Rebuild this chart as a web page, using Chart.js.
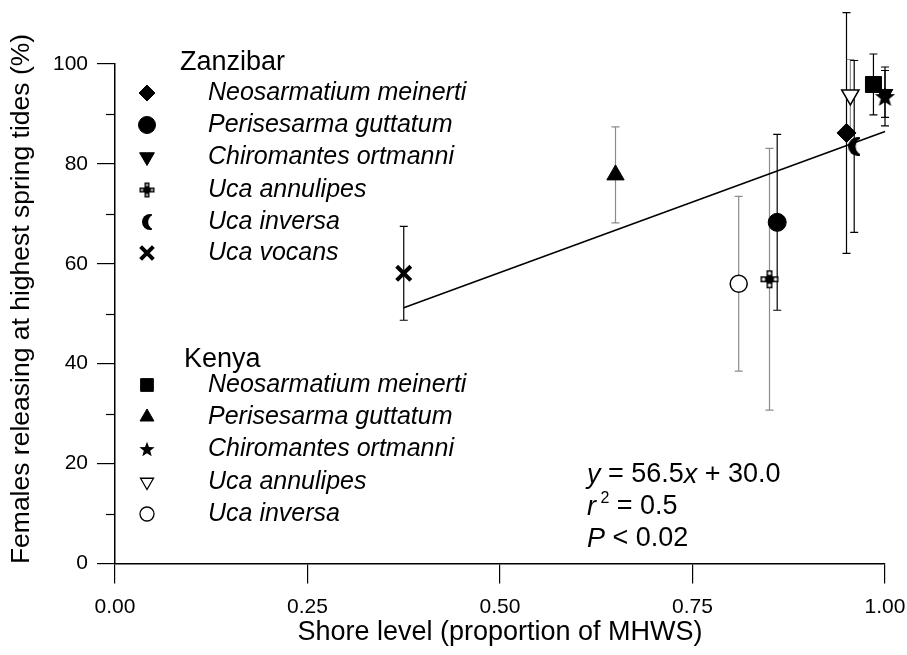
<!DOCTYPE html>
<html>
<head>
<meta charset="utf-8">
<script src="https://cdn.jsdelivr.net/npm/chart.js@4.4.1/dist/chart.umd.min.js"></script>
<style>
  body { margin: 0; background: #fff; }
  #wrap { width: 907px; height: 655px; }
</style>
</head>
<body>
<div id="wrap"><canvas id="chart" width="907" height="655"></canvas></div>
<script>
'use strict';

// values
const zanzibarSpecies = ['Neosarmatium meinerti', 'Perisesarma guttatum', 'Chiromantes ortmanni', 'Uca annulipes', 'Uca inversa', 'Uca vocans'];
const zanzibarShore = [0.95, 0.86, 1.00, 0.85, 0.96, 0.375];
const zanzibarRelease = [86.2, 68.3, 94.0, 56.9, 83.5, 58.1];
const zanzibarError = [24.1, 17.6, 4.7, 26.2, 17.2, 9.4];

const kenyaSpecies = ['Neosarmatium meinerti', 'Perisesarma guttatum', 'Chiromantes ortmanni', 'Uca annulipes', 'Uca inversa'];
const kenyaShore = [0.985, 0.65, 1.00, 0.955, 0.81];
const kenyaRelease = [95.9, 77.8, 93.5, 93.8, 56.0];
const kenyaError = [6.1, 9.6, 5.9, 7.1, 17.5];

const fitShore = [0.375, 1.00];
const fitRelease = [51.2, 86.5];

const yMinorTicks = [10, 30, 50, 70, 90];
const yTitle = 'Females releasing at highest spring tides (%)';
const xTitle = 'Shore level (proportion of MHWS)';

const FONT = "'Liberation Sans', Arial, Helvetica, sans-serif";
const BLACK = '#000';
const GREY = '#8c8c8c';

// --- custom marker images ---
function markerCanvas(w, h, draw) {
  const c = document.createElement('canvas');
  c.width = w;
  c.height = h;
  draw(c.getContext('2d'), w, h);
  return c;
}

function plusSquare(u) {
  return markerCanvas(u * 3 + 2, u * 3 + 2, (g) => {
    g.translate(1, 1);
    g.lineWidth = 1.5;
    g.strokeStyle = BLACK;
    [[1, 0], [0, 1], [2, 1], [1, 2]].forEach(([i, j]) => {
      g.fillStyle = '#fff';
      g.fillRect(i * u, j * u, u, u);
      g.strokeRect(i * u + 0.75, j * u + 0.75, u - 1.5, u - 1.5);
    });
    g.fillStyle = BLACK;
    g.fillRect(u, u, u, u);
  });
}

function crescent(w, h) {
  return markerCanvas(w, h, (g) => {
    const r = h / 2;
    g.fillStyle = BLACK;
    g.beginPath();
    g.arc(r, r, r, 0, Math.PI * 2);
    g.fill();
    g.globalCompositeOperation = 'destination-out';
    g.beginPath();
    g.arc(r + w * 0.55, r, r * 0.92, 0, Math.PI * 2);
    g.fill();
  });
}

function star(r) {
  const s = Math.ceil(r * 2) + 2;
  return markerCanvas(s, s, (g) => {
    g.translate(s / 2, s / 2 + r * 0.1);
    g.beginPath();
    for (let i = 0; i < 10; i++) {
      const rr = i % 2 ? r * 0.42 : r;
      const a = -Math.PI / 2 + i * Math.PI / 5;
      g.lineTo(rr * Math.cos(a), rr * Math.sin(a));
    }
    g.closePath();
    g.fillStyle = BLACK;
    g.fill();
  });
}

const zanzibarStyle = {
  pointStyle: ['rectRot', 'circle', 'triangle', plusSquare(6), crescent(12, 19), 'crossRot'],
  radius: [9.5, 9, 9, 9, 9, 10],
  rotation: [0, 0, 180, 0, 0, 0],
  backgroundColor: [BLACK, BLACK, BLACK, BLACK, BLACK, BLACK],
  borderWidth: [1, 1, 1, 1, 1, 4],
  errorColor: [BLACK, BLACK, BLACK, GREY, BLACK, BLACK]
};
const zanzibarLegend = {
  pointStyle: ['rectRot', 'circle', 'triangle', plusSquare(5), crescent(10, 16), 'crossRot'],
  radius: [8, 8.5, 8.5, 8, 8, 9],
  rotation: [0, 0, 180, 0, 0, 0],
  backgroundColor: [BLACK, BLACK, BLACK, BLACK, BLACK, BLACK],
  borderWidth: [1, 1, 1, 1, 1, 4]
};
const kenyaStyle = {
  pointStyle: ['rect', 'triangle', star(10.5), 'triangle', 'circle'],
  radius: [11.3, 10, 10, 10, 8.5],
  rotation: [0, 0, 0, 180, 0],
  backgroundColor: [BLACK, BLACK, BLACK, '#fff', '#fff'],
  borderWidth: [1, 1, 1, 1.5, 1.5],
  errorColor: [BLACK, GREY, BLACK, GREY, GREY]
};
const kenyaLegend = {
  pointStyle: ['rect', 'triangle', star(8), 'triangle', 'circle'],
  radius: [9, 8, 7, 7.5, 7],
  rotation: [0, 0, 0, 180, 0],
  backgroundColor: [BLACK, BLACK, BLACK, '#fff', '#fff'],
  borderWidth: [1, 1, 1, 1.3, 1.3]
};

function points(xs, ys) {
  return xs.map((x, i) => ({ x: x, y: ys[i] }));
}

// error bars drawn under the markers
const errorBars = {
  id: 'errorBars',
  beforeDatasetsDraw(chart) {
    const { ctx, scales: { x, y } } = chart;
    chart.data.datasets.forEach((ds) => {
      if (!ds.errors) return;
      ds.data.forEach((p, i) => {
        const px = x.getPixelForValue(p.x);
        const top = y.getPixelForValue(p.y + ds.errors[i]);
        const bot = y.getPixelForValue(p.y - ds.errors[i]);
        ctx.save();
        ctx.strokeStyle = ds.errorColor[i];
        ctx.lineWidth = 1.2;
        ctx.beginPath();
        ctx.moveTo(px, top); ctx.lineTo(px, bot);
        ctx.moveTo(px - 4, top); ctx.lineTo(px + 4, top);
        ctx.moveTo(px - 4, bot); ctx.lineTo(px + 4, bot);
        ctx.stroke();
        ctx.restore();
      });
    });
  }
};

// short minor ticks on the y axis, plus the y title
const axisExtras = {
  id: 'axisExtras',
  afterDraw(chart) {
    const { ctx, scales: { y } } = chart;
    ctx.save();
    ctx.strokeStyle = BLACK;
    ctx.lineWidth = 1.2;
    yMinorTicks.forEach((v) => {
      const py = Math.round(y.getPixelForValue(v)) + 0.5;
      ctx.beginPath();
      ctx.moveTo(y.right - 9, py);
      ctx.lineTo(y.right, py);
      ctx.stroke();
    });
    ctx.translate(22, 299);
    ctx.rotate(-Math.PI / 2);
    ctx.fillStyle = BLACK;
    ctx.font = '26.5px ' + FONT;
    ctx.textAlign = 'center';
    ctx.textBaseline = 'middle';
    ctx.fillText(yTitle, 0, 0);
    ctx.restore();
  }
};

function drawRuns(ctx, x, y, runs) {
  runs.forEach((r) => {
    ctx.font = (r.italic ? 'italic ' : '') + (r.size || 27) + 'px ' + FONT;
    ctx.fillText(r.t, x, y + (r.dy || 0));
    x += ctx.measureText(r.t).width;
  });
}

// grouped legend and regression statistics
const groupLegend = {
  id: 'groupLegend',
  afterDraw(chart) {
    const ctx = chart.ctx;
    ctx.save();
    ctx.fillStyle = BLACK;
    ctx.strokeStyle = BLACK;
    ctx.textBaseline = 'middle';
    ctx.textAlign = 'left';

    const groups = [
      { title: 'Zanzibar', tx: 180, ty: 63, rows: [93, 125, 157, 190, 222, 253], names: zanzibarSpecies, st: zanzibarLegend },
      { title: 'Kenya', tx: 184, ty: 360, rows: [385, 417, 449, 482, 514], names: kenyaSpecies, st: kenyaLegend }
    ];
    groups.forEach((g) => {
      ctx.font = '27px ' + FONT;
      ctx.fillStyle = BLACK;
      ctx.fillText(g.title, g.tx, g.ty);
      g.names.forEach((name, i) => {
        ctx.font = 'italic 25px ' + FONT;
        ctx.fillStyle = BLACK;
        ctx.fillText(name, 208, g.rows[i]);
        ctx.fillStyle = g.st.backgroundColor[i];
        ctx.strokeStyle = BLACK;
        ctx.lineWidth = g.st.borderWidth[i];
        Chart.helpers.drawPoint(ctx, {
          pointStyle: g.st.pointStyle[i],
          radius: g.st.radius[i],
          rotation: g.st.rotation[i],
          borderWidth: g.st.borderWidth[i]
        }, 147, g.rows[i]);
      });
    });

    ctx.fillStyle = BLACK;
    drawRuns(ctx, 587, 475, [
      { t: 'y', italic: true }, { t: ' = 56.5' }, { t: 'x', italic: true }, { t: ' + 30.0' }
    ]);
    drawRuns(ctx, 587, 507, [
      { t: 'r', italic: true }, { t: ' 2', size: 16, dy: -8 }, { t: ' = 0.5' }
    ]);
    drawRuns(ctx, 587, 539, [
      { t: 'P', italic: true }, { t: ' < 0.02' }
    ]);
    ctx.restore();
  }
};

const data = {
  datasets: [
    {
      label: 'Kenya',
      data: points(kenyaShore, kenyaRelease),
      errors: kenyaError,
      errorColor: kenyaStyle.errorColor,
      pointStyle: kenyaStyle.pointStyle,
      pointRadius: kenyaStyle.radius,
      pointRotation: kenyaStyle.rotation,
      pointBackgroundColor: kenyaStyle.backgroundColor,
      pointBorderColor: BLACK,
      pointBorderWidth: kenyaStyle.borderWidth,
      clip: false
    },
    {
      label: 'Zanzibar',
      data: points(zanzibarShore, zanzibarRelease),
      errors: zanzibarError,
      errorColor: zanzibarStyle.errorColor,
      pointStyle: zanzibarStyle.pointStyle,
      pointRadius: zanzibarStyle.radius,
      pointRotation: zanzibarStyle.rotation,
      pointBackgroundColor: zanzibarStyle.backgroundColor,
      pointBorderColor: BLACK,
      pointBorderWidth: zanzibarStyle.borderWidth,
      clip: false
    },
    {
      type: 'line',
      label: 'fit',
      data: points(fitShore, fitRelease),
      borderColor: BLACK,
      borderWidth: 1.6,
      pointRadius: 0,
      fill: false,
      clip: false
    }
  ]
};

const config = {
  type: 'scatter',
  data: data,
  options: {
    responsive: false,
    animation: false,
    events: [],
    layout: { padding: { top: 64, right: 22, left: 0, bottom: 0 } },
    plugins: {
      legend: { display: false },
      tooltip: { enabled: false }
    },
    scales: {
      x: {
        type: 'linear',
        min: 0,
        max: 1,
        afterFit: (scale) => {
          scale.height = 91.5;
          scale.paddingLeft = 0;
          scale.paddingRight = 0;
        },
        ticks: {
          stepSize: 0.25,
          padding: 11,
          color: BLACK,
          font: { family: FONT, size: 21 },
          callback: (v) => Number(v).toFixed(2)
        },
        grid: { drawOnChartArea: false, drawTicks: true, tickLength: 20, color: BLACK, lineWidth: 1.2 },
        border: { display: true, color: BLACK, width: 1.5 },
        title: {
          display: true,
          text: xTitle,
          color: BLACK,
          font: { family: FONT, size: 27 },
          padding: { top: 0, bottom: 6 }
        }
      },
      y: {
        min: 0,
        max: 100,
        afterFit: (scale) => {
          scale.width = 115;
          scale.paddingTop = 0;
          scale.paddingBottom = 0;
        },
        ticks: {
          stepSize: 20,
          padding: 9,
          color: BLACK,
          font: { family: FONT, size: 21 }
        },
        grid: { drawOnChartArea: false, drawTicks: true, tickLength: 18, color: BLACK, lineWidth: 1.2 },
        border: { display: true, color: BLACK, width: 1.5 }
      }
    }
  },
  plugins: [errorBars, axisExtras, groupLegend]
};

new Chart(document.getElementById('chart'), config);
</script>
</body>
</html>
